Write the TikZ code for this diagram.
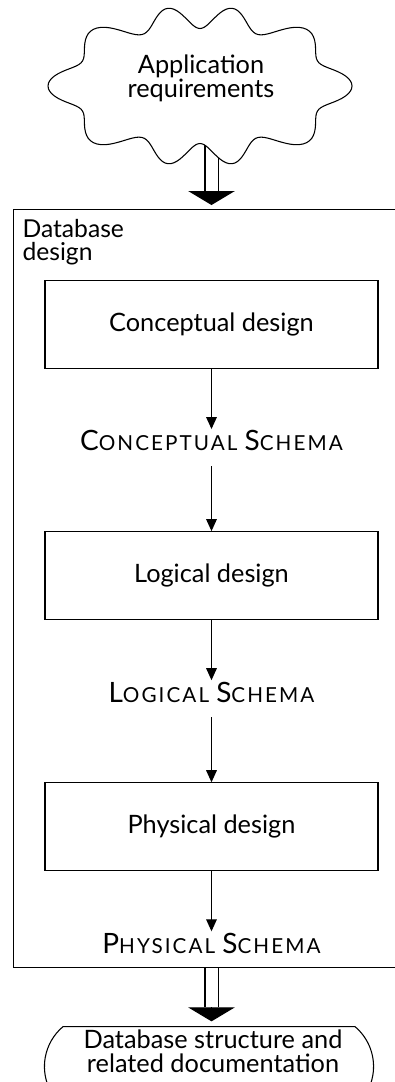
\documentclass[tikz,border=0pt]{standalone}
\usepackage{fontspec}
\setmainfont{Lato}
\usetikzlibrary{positioning,shapes.misc,arrows.meta}

\newcommand{\smallc}[1]{{\fontsize{15.5}{15.5}\selectfont\addfontfeatures{LetterSpace=10}#1}}

\begin{document}
\begin{tikzpicture}[
    x=0.75pt, y=-0.75pt,
    font=\fontsize{19}{18}\selectfont,
    every node/.style={line width=0.8pt},
    stage/.style={rectangle, draw, minimum width=249.75pt, minimum height=66pt, align=center},
    schema/.style={inner sep=0pt, text height=16pt, text depth=11pt, font=\fontsize{21}{21}\selectfont},
    flow/.style={draw, line width=0.8pt, -{Triangle[width=8pt,length=9pt]}},
    shaft/.style={line width=0.8pt, double distance=9pt},
    bighead/.style={line width=0.8pt, -{Triangle[width=35pt,length=10.5pt]}}
]
    \useasboundingbox (0,0) rectangle (395,1082);

    % outer frame
    \node (dbdesign) [draw, anchor=north west, minimum width=292.5pt, minimum height=568.5pt] at (13,209) {};
    \node (dblabel) [anchor=north west, align=left, inner sep=0pt, font=\fontsize{18.5}{17.25}\selectfont] at (22,219) {Database\\design};

    % input
    \coordinate (reqfoot) at (211.5,125);
    \draw[shaft] (reqfoot) -- ([yshift=13.5pt]reqfoot |- dbdesign.north);
    \draw[bighead] ([yshift=13.5pt]reqfoot |- dbdesign.north) -- ([yshift=3pt]reqfoot |- dbdesign.north);
    \draw[line width=0.8pt, fill=white] plot[domain=0:358.5, samples=240, smooth cycle]
        ({200+(141+11*cos(10*\x))*cos(\x+9.9*sin(2*\x))}, {86+(68.5+11*cos(10*\x))*sin(\x+9.9*sin(2*\x))});
    \node (req) [align=center] at (201,78) {Application\\requirements};

    % design steps
    \node (conceptual) [stage] at (211.5,324.5) {Conceptual design};
    \node (cschema) [schema, below=45pt of conceptual] {C\smallc{ONCEPTUAL} S\smallc{CHEMA}};
    \node (logical) [stage, below=48.75pt of cschema] {Logical design};
    \node (lschema) [schema, below=45pt of logical] {L\smallc{OGICAL} S\smallc{CHEMA}};
    \node (physical) [stage, below=48.75pt of lschema] {Physical design};
    \node (pschema) [schema, below=45pt of physical] {P\smallc{HYSICAL} S\smallc{CHEMA}};

    \draw[flow] (conceptual) -- (cschema);
    \draw[flow] (cschema) -- (logical);
    \draw[flow] (logical) -- (lschema);
    \draw[flow] (lschema) -- (physical);
    \draw[flow] (physical) -- (pschema);

    % output
    \node (docs) [rounded rectangle, rounded rectangle arc length=100, draw, anchor=north,
        minimum width=253.5pt, minimum height=60pt] at (209,1026) {};
    \node (docstext) [align=center] at (213,1051) {Database structure and\\related documentation};
    \coordinate (dbfoot) at (reqfoot |- dbdesign.south);
    \draw[shaft] (dbfoot) -- ([yshift=14pt]dbfoot |- docs.north);
    \draw[bighead] ([yshift=14pt]dbfoot |- docs.north) -- ([yshift=3.5pt]dbfoot |- docs.north);
\end{tikzpicture}
\end{document}
